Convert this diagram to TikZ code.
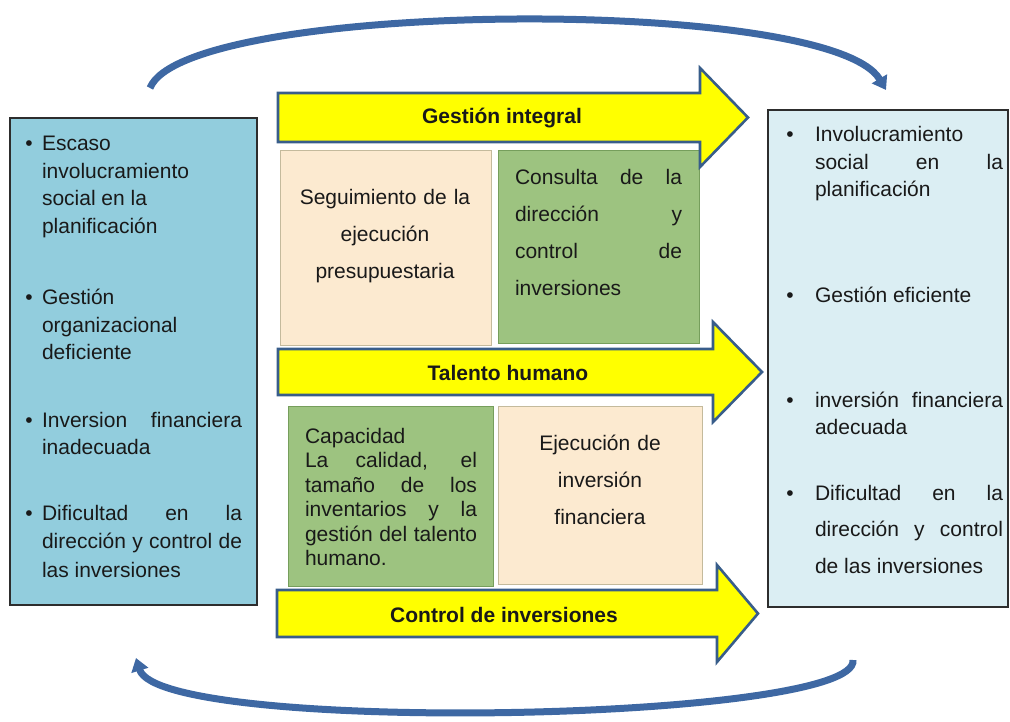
\documentclass[tikz,border=0pt]{standalone}
\usepackage{fontspec}
\setmainfont{Liberation Sans}
\usetikzlibrary{arrows.meta}
\hyphenpenalty=10000
\exhyphenpenalty=10000
\tolerance=10000
\hbadness=10000
\definecolor{lblue}{RGB}{146,205,221}
\definecolor{rblue}{RGB}{219,238,243}
\definecolor{beige}{RGB}{252,234,208}
\definecolor{beigeline}{RGB}{196,186,156}
\definecolor{gbox}{RGB}{157,195,128}
\definecolor{gline}{RGB}{118,158,92}
\definecolor{yfill}{RGB}{255,255,0}
\definecolor{yline}{RGB}{56,93,138}
\definecolor{curvecol}{RGB}{62,104,163}
\definecolor{txt}{RGB}{25,25,25}
\definecolor{boxline}{RGB}{45,45,45}
\begin{document}
\begin{tikzpicture}[x=1pt,y=-1pt,
  every node/.style={inner sep=0pt,outer sep=0pt,text=txt},
  sidebox/.style={draw=boxline,line width=1.2pt},
  beigebox/.style={fill=beige,draw=beigeline,line width=1pt},
  greenbox/.style={fill=gbox,draw=gline,line width=1pt},
  yarrow/.style={fill=yfill,draw=yline,line width=2.6pt,line join=miter},
  bigcurve/.style={draw=curvecol,line width=7pt,-{Triangle[width=17pt,length=13pt]}},
  item/.style={anchor=base west,align=justify,font=\fontsize{21}{27.5}\selectfont},
  bul/.style={anchor=base,font=\fontsize{21}{27.5}\selectfont},
  ctext/.style={anchor=base,align=center,font=\fontsize{21}{37}\selectfont},
  lab/.style={anchor=base,font=\fontsize{21}{25}\selectfont\bfseries}
]
\useasboundingbox (0,0) rectangle (1010,722);

% side boxes
\node[sidebox,fill=lblue,minimum width=247pt,minimum height=487pt,anchor=north west] (left) at (10,118) {};
\node[sidebox,fill=rblue,minimum width=240pt,minimum height=497pt,anchor=north west] (right) at (768,110) {};

% middle boxes
\node[beigebox,minimum width=211pt,minimum height=194pt,anchor=north west] (seg) at (280,151) {};
\node[greenbox,minimum width=201pt,minimum height=192pt,anchor=north west] (con) at (498,151) {};
\node[greenbox,minimum width=205pt,minimum height=180pt,anchor=north west] (cap) at (288,406) {};
\node[beigebox,minimum width=204pt,minimum height=178pt,anchor=north west] (eje) at (498,406) {};

% left box text
\node[bul] (lb1) at (29,151) {•};
\node[item,text width=200pt] (l1) at (42,151) {Escaso\\involucramiento\\social en la\\planificación};
\node[bul] (lb2) at (29,305) {•};
\node[item,text width=200pt] (l2) at (42,305) {Gestión\\organizacional\\deficiente};
\node[bul] (lb3) at (29,427) {•};
\node[item,text width=200pt] (l3) at (42,427) {Inversion financiera\linebreak inadecuada};
\node[bul] (lb4) at (29,520) {•};
\node[item,text width=200pt,font=\fontsize{21}{28.5}\selectfont] (l4) at (42,520) {Dificultad en la\linebreak dirección y control de\linebreak las inversiones};

% right box text
\node[bul] (rb1) at (790,142) {•};
\node[item,text width=188pt] (r1) at (815,142) {Involucramiento\\social en la\linebreak planificación};
\node[bul] (rb2) at (790,303) {•};
\node[item,text width=188pt] (r2) at (815,303) {Gestión eficiente};
\node[bul] (rb3) at (790,407) {•};
\node[item,text width=188pt] (r3) at (815,407) {inversión financiera\linebreak adecuada};
\node[bul] (rb4) at (790,500) {•};
\node[item,text width=188pt,font=\fontsize{21}{36.5}\selectfont] (r4) at (815,500) {Dificultad en la\linebreak dirección y control\linebreak de las inversiones};

% middle texts
\node[ctext,text width=200pt] (segt) at (385,205) {Seguimiento de la\\ejecución\\presupuestaria};
\node[item,text width=167pt,font=\fontsize{21}{37}\selectfont] (cont) at (515,185) {Consulta de la\linebreak dirección y\linebreak control de\linebreak inversiones};
\node[item,text width=172pt,font=\fontsize{21}{24.5}\selectfont] (capt) at (305,443) {Capacidad\\La calidad, el\linebreak tamaño de los\linebreak inventarios y la\linebreak gestión del talento\linebreak humano.};
\node[ctext,text width=190pt] (ejet) at (600,450) {Ejecución de\\inversión\\financiera};

% yellow arrows
\draw[yarrow] (278,93) -- (700,93) -- (700,68) -- (748,117.5) -- (700,167) -- (700,142) -- (278,142) -- cycle;
\node[lab] (gi) at (502,124) {Gestión integral};
\draw[yarrow] (278,349) -- (713,349) -- (713,322) -- (762,372) -- (713,422) -- (713,395) -- (278,395) -- cycle;
\node[lab] (th) at (508,380) {Talento humano};
\draw[yarrow] (277,590) -- (717,590) -- (717,565) -- (758,613.5) -- (717,662) -- (717,637) -- (277,637) -- cycle;
\node[lab] (ci) at (504,622) {Control de inversiones};

% curved arrows
\coordinate (ts) at (150,88);
\coordinate (te) at (886,90);
\coordinate (bs) at (853,660);
\coordinate (be) at (136,658);
\draw[bigcurve] (ts) .. controls (185,0) and (830,-5) .. (te);
\draw[bigcurve] (bs) .. controls (860,722) and (160,735) .. (be);
\end{tikzpicture}
\end{document}
